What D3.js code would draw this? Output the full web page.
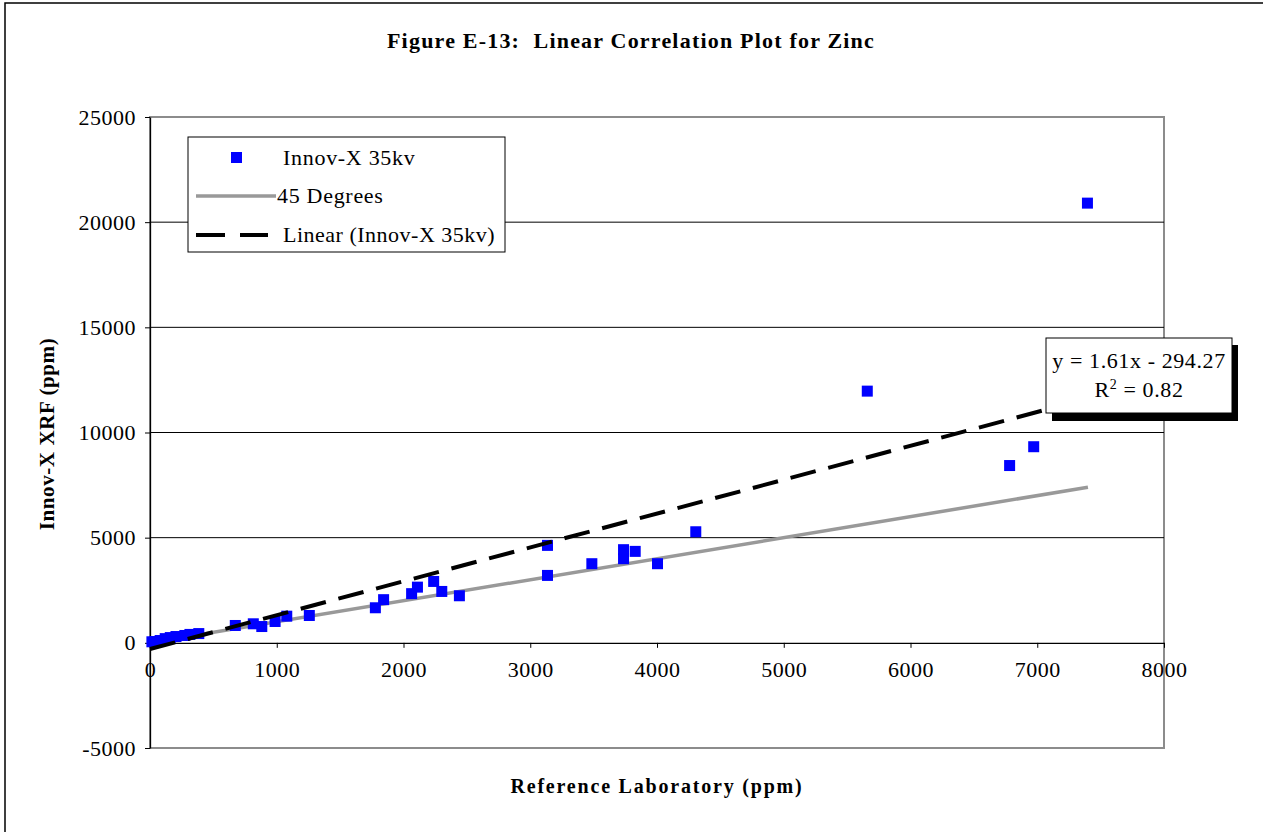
<!DOCTYPE html>
<html>
 <head>
  <meta charset="utf-8">
  <title>Linear Correlation Plot for Zinc</title>
  <script src="https://cdnjs.cloudflare.com/ajax/libs/d3/7.8.3/d3.min.js"></script>
  <style>
   body { margin: 0; background: #fff; }
   text { font-family: "Liberation Serif", "Times New Roman", serif; }
  </style>
 </head>
 <body>
  <script>
   // Reference lab (ppm) vs Innov-X 35kv reading (ppm)
   const refLab = [15, 40, 80, 120, 160, 205, 275, 315, 385, 673, 815, 882, 987, 1079, 1257,
                   1778, 1843, 2064, 2110, 2238, 2302, 2441, 3136, 3136, 3486, 3736, 3736,
                   3828, 4004, 4306, 5659, 6782, 6972, 7396];
   const innovX = [50, 60, 110, 200, 250, 300, 350, 400, 440, 825, 905, 775, 1015, 1267, 1300,
                   1667, 2052, 2338, 2648, 2919, 2443, 2238, 4633, 3205, 3762, 4429, 4000,
                   4348, 3762, 5281, 11967, 8429, 9324, 20905];
   const diagLine = [0, 7400];
   const trendSlope = 1.61, trendIntercept = -294.27;
   const xTicks = [0, 1000, 2000, 3000, 4000, 5000, 6000, 7000, 8000];
   const yTicks = [-5000, 0, 5000, 10000, 15000, 20000, 25000];
   const gridVals = [5000, 10000, 15000, 20000];

   const w = 1263, h = 832;
   const svg = d3.select("body").append("svg").attr("width", w).attr("height", h);

   // outer frame
   svg.append("rect").attr("x", 5).attr("y", 3).attr("width", 1300).attr("height", 900)
      .attr("fill", "none").attr("stroke", "#000").attr("stroke-width", 1.5);

   const x = d3.scaleLinear().domain([0, 8000]).range([150, 1164]);
   const y = d3.scaleLinear().domain([-5000, 25000]).range([748, 117]);

   // plot border
   svg.append("rect").attr("x", x(0)).attr("y", y(25000))
      .attr("width", x(8000) - x(0)).attr("height", y(-5000) - y(25000))
      .attr("fill", "none").attr("stroke", "#8c8c8c").attr("stroke-width", 2);

   svg.selectAll(".grid").data(gridVals).enter().append("line")
      .attr("x1", x(0)).attr("x2", x(8000))
      .attr("y1", d => y(d)).attr("y2", d => y(d))
      .attr("stroke", "#000").attr("stroke-width", 1);

   const fmt = d => String(d);
   const xAxis = d3.axisBottom(x).tickValues(xTicks).tickFormat(fmt).tickSize(5).tickPadding(14).tickSizeOuter(0);
   svg.append("g").attr("transform", "translate(0," + y(0) + ")").call(xAxis)
      .call(g => g.selectAll("text").style("font-size", "22px").style("letter-spacing", "0.5px").attr("fill", "#000"))
      .call(g => g.select(".domain").attr("stroke-width", 1.3));

   const yAxis = d3.axisLeft(y).tickValues(yTicks).tickFormat(fmt).tickSize(5).tickPadding(9).tickSizeOuter(0);
   svg.append("g").attr("transform", "translate(" + x(0) + ",0)").call(yAxis)
      .call(g => g.selectAll("text").style("font-size", "22px").style("letter-spacing", "0.5px").attr("fill", "#000"))
      .call(g => g.select(".domain").attr("stroke-width", 1.3));

   // 45 degree line
   svg.append("line")
      .attr("x1", x(diagLine[0])).attr("y1", y(diagLine[0]))
      .attr("x2", x(diagLine[1])).attr("y2", y(diagLine[1]))
      .attr("stroke", "#999").attr("stroke-width", 3.5);

   const pts = refLab.map((d, i) => [d, innovX[i]]);
   svg.selectAll(".pt").data(pts).enter().append("rect")
      .attr("x", d => x(d[0]) - 5.5).attr("y", d => y(d[1]) - 5.5)
      .attr("width", 11).attr("height", 11)
      .attr("fill", "#0000ff");

   // linear trendline
   const tx = [0, d3.max(refLab)];
   svg.append("line")
      .attr("x1", x(tx[0])).attr("y1", y(trendSlope * tx[0] + trendIntercept))
      .attr("x2", x(tx[1])).attr("y2", y(trendSlope * tx[1] + trendIntercept))
      .attr("stroke", "#000").attr("stroke-width", 4).attr("stroke-dasharray", "26,13");

   // equation label
   svg.append("rect").attr("x", 1052).attr("y", 345).attr("width", 186).attr("height", 76).attr("fill", "#000");
   svg.append("rect").attr("x", 1046).attr("y", 338).attr("width", 186).attr("height", 75)
      .attr("fill", "#fff").attr("stroke", "#000").attr("stroke-width", 1);
   svg.append("text").attr("x", 1139).attr("y", 368).attr("text-anchor", "middle")
      .style("font-size", "22px").style("letter-spacing", "0.6px").text("y = 1.61x - 294.27");
   const r2 = svg.append("text").attr("x", 1139).attr("y", 397).attr("text-anchor", "middle")
      .style("font-size", "22px").style("letter-spacing", "0.6px");
   r2.append("tspan").text("R");
   r2.append("tspan").attr("dy", -8).style("font-size", "14px").text("2");
   r2.append("tspan").attr("dy", 8).text(" = 0.82");

   // legend
   const lg = svg.append("g");
   lg.append("rect").attr("x", 188).attr("y", 137).attr("width", 317).attr("height", 115)
     .attr("fill", "#fff").attr("stroke", "#000").attr("stroke-width", 1);
   lg.append("rect").attr("x", 231).attr("y", 152).attr("width", 11).attr("height", 11).attr("fill", "#0000ff");
   lg.append("text").attr("x", 283).attr("y", 165).style("font-size", "22px").style("letter-spacing", "0.7px").text("Innov-X 35kv");
   lg.append("line").attr("x1", 196).attr("x2", 276).attr("y1", 196).attr("y2", 196)
     .attr("stroke", "#999").attr("stroke-width", 3.5);
   lg.append("text").attr("x", 277).attr("y", 203).style("font-size", "22px").style("letter-spacing", "0.7px").text("45 Degrees");
   lg.append("line").attr("x1", 196).attr("x2", 268).attr("y1", 235).attr("y2", 235)
     .attr("stroke", "#000").attr("stroke-width", 4).attr("stroke-dasharray", "29,15");
   lg.append("text").attr("x", 283).attr("y", 242).style("font-size", "22px").style("letter-spacing", "0.5px").text("Linear (Innov-X 35kv)");

   // titles
   svg.append("text").attr("x", 631).attr("y", 48).attr("text-anchor", "middle")
      .style("font-size", "22px").style("font-weight", "bold").style("letter-spacing", "1.2px")
      .text("Figure E-13:\u00a0 Linear Correlation Plot for Zinc");
   svg.append("text").attr("x", 657).attr("y", 793).attr("text-anchor", "middle")
      .style("font-size", "20px").style("font-weight", "bold").style("letter-spacing", "1.8px")
      .text("Reference Laboratory (ppm)");
   svg.append("text").attr("transform", "translate(54,434) rotate(-90)").attr("text-anchor", "middle")
      .style("font-size", "21px").style("font-weight", "bold").style("letter-spacing", "0.6px")
      .text("Innov-X XRF (ppm)");
  </script>
 </body>
</html>
